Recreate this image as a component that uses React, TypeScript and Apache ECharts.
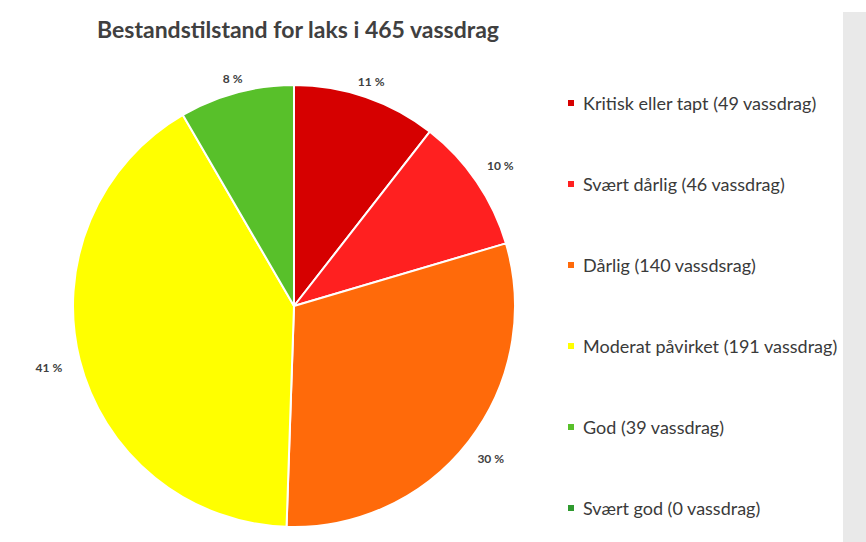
import React, { useEffect, useRef } from "react";
import * as echarts from "echarts";

const titleText = "Bestandstilstand for laks i 465 vassdrag";
const categories = [
  "Kritisk eller tapt (49 vassdrag)",
  "Svært dårlig (46 vassdrag)",
  "Dårlig (140 vassdsrag)",
  "Moderat påvirket (191 vassdrag)",
  "God (39 vassdrag)",
  "Svært god (0 vassdrag)",
];
const values = [49, 46, 140, 191, 39, 0];
const colors = ["#d60000", "#ff2020", "#ff6a0a", "#ffff00", "#58c02a", "#2f9a2f"];

const CX = 294;
const CY = 306;
const R = 221;

export default function App() {
  const ref = useRef<HTMLDivElement>(null);
  useEffect(() => {
    if (!ref.current) return;
    const chart = echarts.init(ref.current, undefined, { renderer: "svg" });
    const total = values.reduce((a, b) => a + b, 0);
    const midAngles: number[] = [];
    let acc = 0;
    values.forEach((v) => {
      midAngles.push(((acc + v / 2) / total) * Math.PI * 2);
      acc += v;
    });
    chart.setOption({
      animation: false,
      backgroundColor: "#ffffff",
      title: {
        text: titleText,
        left: 293,
        top: 12,
        textAlign: "center",
        textStyle: {
          fontFamily: "Lato",
          fontWeight: "bold",
          fontSize: 23,
          color: "#404040",
        },
      },
      legend: {
        orient: "vertical",
        left: 566,
        top: 94,
        padding: 0,
        itemWidth: 8,
        itemHeight: 8,
        itemGap: 63,
        icon: "rect",
        data: categories,
        textStyle: {
          fontFamily: "Lato",
          fontSize: 18,
          color: "#3a3a3a",
          padding: [0, 0, 0, 3],
        },
      },
      graphic: [
        {
          type: "rect",
          shape: { x: 843, y: 12, width: 23, height: 530 },
          style: { fill: "#e9e9e9" },
          silent: true,
        },
      ],
      series: [
        {
          type: "pie",
          center: [CX, CY],
          radius: R,
          startAngle: 90,
          clockwise: true,
          avoidLabelOverlap: false,
          itemStyle: { borderColor: "#ffffff", borderWidth: 2 },
          label: {
            show: true,
            position: "outside",
            fontFamily: "Lato",
            fontWeight: "bold",
            fontSize: 12,
            color: "#404040",
            formatter: (p: any) =>
              p.value === 0 ? "" : Math.round((p.value / total) * 100) + " %",
          },
          labelLine: { show: false, length: 10, length2: 0 },
          labelLayout: (p: any) => {
            const a = midAngles[p.dataIndex];
            const s = Math.sin(a);
            const c = Math.cos(a);
            const d = R + 6 + Math.abs(s) * 26 + Math.abs(c) * 2;
            return {
              x: CX + s * d,
              y: CY - c * d,
              align: "center",
              verticalAlign: "middle",
            };
          },
          data: categories.map((name, i) => ({
            name,
            value: values[i],
            itemStyle: { color: colors[i] },
          })),
        },
      ],
    });
    return () => chart.dispose();
  }, []);
  return (
    <div
      ref={ref}
      style={{ position: "fixed", left: 0, top: 0, width: 866, height: 542 }}
    />
  );
}
